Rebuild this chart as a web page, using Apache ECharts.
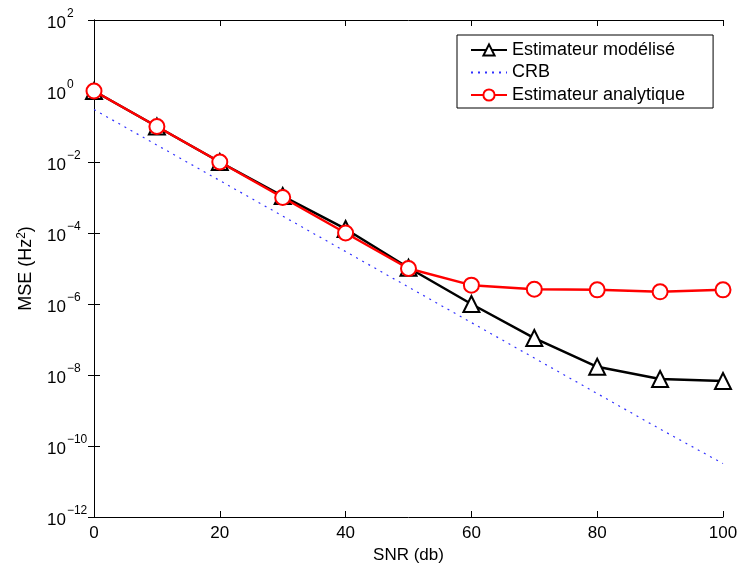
<!DOCTYPE html>
<html>
<head>
<meta charset="utf-8">
<script src="https://cdn.jsdelivr.net/npm/echarts@6/dist/echarts.min.js"></script>
<style>html,body{margin:0;padding:0;background:#fff;}#c{width:742px;height:570px;}</style>
</head>
<body>
<div id="c"></div>
<script>
const snr = [0, 10, 20, 30, 40, 50, 60, 70, 80, 90, 100];
const mseModel = [1, 0.1, 0.01, 1.1e-3, 1.3e-4, 1.05e-5, 1.0e-6, 1.1e-7, 1.7e-8, 7.7e-9, 6.8e-9];
const mseCRB = [0.3, 0.03, 3e-3, 3e-4, 3e-5, 3e-6, 3e-7, 3e-8, 3e-9, 3e-10, 3.2e-11];
const mseAnalytic = [1, 0.1, 0.01, 1.0e-3, 1.0e-4, 1.0e-5, 3.4e-6, 2.6e-6, 2.5e-6, 2.2e-6, 2.5e-6];
const xTicks = [0, 20, 40, 60, 80, 100];
const seriesNames = ['Estimateur modélisé', 'CRB', 'Estimateur analytique'];

const FONT = 'Liberation Sans, Arial, Helvetica, sans-serif';
const pair = (xs, ys) => xs.map((x, i) => [x, ys[i]]);

const supFmt = v => {
  const e = Math.round(Math.log10(v));
  return '{b|10}{s|' + (e < 0 ? '\u2212' + (-e) : e) + '}';
};

const chart = echarts.init(document.getElementById('c'), null, {renderer: 'canvas'});
const axisLineStyle = {color: '#000', width: 1};
chart.setOption({
  backgroundColor: '#fff',
  animation: false,
  textStyle: {fontFamily: FONT},
  grid: {left: 94, right: 19, top: 20, bottom: 53, containLabel: false},
  legend: {
    data: [
      {name: seriesNames[0]},
      {name: seriesNames[1], itemStyle: {opacity: 0}},
      {name: seriesNames[2]}
    ],
    orient: 'vertical',
    left: 457, top: 35,
    backgroundColor: '#fff',
    borderColor: '#000', borderWidth: 1,
    padding: [6, 28, 4, 13],
    itemWidth: 36, itemHeight: 14, itemGap: 4.5,
    textStyle: {fontFamily: FONT, fontSize: 18, color: '#000'}
  },
  xAxis: [{
    type: 'value', min: 0, max: 100, interval: 20,
    name: 'SNR (db)', nameLocation: 'middle', nameGap: 30,
    nameTextStyle: {fontFamily: FONT, fontSize: 17, color: '#000'},
    axisLine: {lineStyle: axisLineStyle},
    axisTick: {inside: true, length: 6, lineStyle: axisLineStyle},
    axisLabel: {fontFamily: FONT, fontSize: 17, color: '#000', margin: 8,
      formatter: v => xTicks.includes(v) ? String(v) : ''},
    splitLine: {show: false}
  }, {
    type: 'value', min: 0, max: 100, interval: 20, position: 'top',
    axisLine: {lineStyle: axisLineStyle},
    axisTick: {inside: true, length: 6, lineStyle: axisLineStyle},
    axisLabel: {show: false}, splitLine: {show: false}
  }],
  yAxis: [{
    type: 'log', logBase: 10, min: 1e-12, max: 1e2, interval: 2,
    name: 'MSE (Hz{s|2})', nameLocation: 'middle', nameGap: 58, nameRotate: 90,
    nameTextStyle: {fontFamily: FONT, fontSize: 18, color: '#000',
      rich: {s: {fontFamily: FONT, fontSize: 12, color: '#000', verticalAlign: 'top', lineHeight: 20}}},
    axisLine: {lineStyle: axisLineStyle},
    axisTick: {inside: true, length: 6, lineStyle: axisLineStyle},
    minorTick: {show: false},
    axisLabel: {
      align: 'left', margin: 47, color: '#000',
      formatter: supFmt,
      rich: {
        b: {fontFamily: FONT, fontSize: 17, color: '#000', lineHeight: 24, verticalAlign: 'bottom'},
        s: {fontFamily: FONT, fontSize: 12, color: '#000', lineHeight: 24, verticalAlign: 'top', padding: [0, 0, 0, 1]}
      }
    },
    splitLine: {show: false}
  }, {
    type: 'log', logBase: 10, min: 1e-12, max: 1e2, interval: 2, position: 'right',
    axisLine: {lineStyle: axisLineStyle},
    axisTick: {inside: true, length: 6, lineStyle: axisLineStyle},
    axisLabel: {show: false}, splitLine: {show: false}
  }],
  series: [{
    name: seriesNames[0], type: 'line', data: pair(snr, mseModel),
    symbol: 'emptyTriangle', symbolSize: 16,
    lineStyle: {color: '#000', width: 2.5},
    itemStyle: {color: '#000', borderColor: '#000', borderWidth: 2.5},
    z: 3
  }, {
    name: seriesNames[1], type: 'line', data: pair(snr, mseCRB),
    symbol: 'none', showSymbol: false,
    lineStyle: {color: '#3030ff', width: 1.2, type: [2, 5]},
    itemStyle: {color: '#3030ff'},
    z: 2
  }, {
    name: seriesNames[2], type: 'line', data: pair(snr, mseAnalytic),
    symbol: 'emptyCircle', symbolSize: 15,
    lineStyle: {color: '#ff0000', width: 2.5},
    itemStyle: {color: '#ff0000', borderColor: '#ff0000', borderWidth: 2.5},
    z: 4
  }]
});
</script>
</body>
</html>
